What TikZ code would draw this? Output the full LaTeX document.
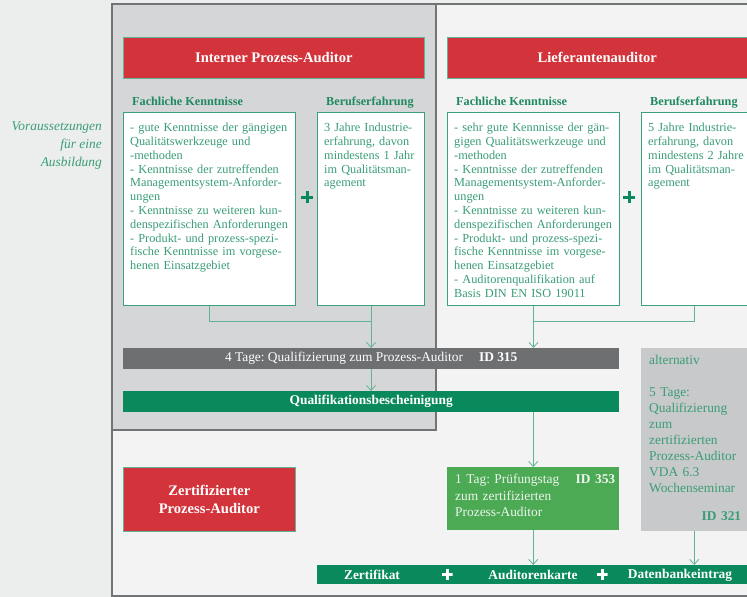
\documentclass[tikz,border=0pt]{standalone}
\usepackage{fontspec}
\setmainfont{Liberation Serif}
\usetikzlibrary{arrows.meta,positioning}

\definecolor{bgpaper}{HTML}{ECEEED}
\definecolor{shadegray}{HTML}{D4D6D7}
\definecolor{framegray}{HTML}{737475}
\definecolor{zred}{HTML}{D3333B}
\definecolor{zgreen}{HTML}{0A8A5C}
\definecolor{lgreen}{HTML}{4CA954}
\definecolor{txtgreen}{HTML}{3A9D76}
\definecolor{titlegreen}{HTML}{1F8A60}
\definecolor{linegreen}{HTML}{64B296}
\definecolor{bargray}{HTML}{6E6F71}
\definecolor{altgray}{HTML}{C8C9CA}

\tikzset{
  redhead/.style={fill=zred, draw=linegreen, line width=0.6pt, text=white,
    anchor=north west, inner sep=0pt, align=center,
    font=\fontsize{14.6}{18}\selectfont\bfseries},
  ktitle/.style={anchor=base west, inner sep=0pt, text=titlegreen,
    font=\fontsize{12.2}{14}\selectfont\bfseries},
  kbox/.style={draw=zgreen!80, line width=1pt, fill=white, anchor=north west,
    inner sep=0pt, minimum height=193},
  ktext/.style={anchor=north west, inner sep=0pt, text=txtgreen, align=left,
    text width=180, font=\fontsize{12.3}{13.8}\selectfont},
  plussign/.style={inner sep=0pt, minimum size=12, path picture={
    \draw[#1, line width=3pt]
      (path picture bounding box.north) -- (path picture bounding box.south)
      (path picture bounding box.west) -- (path picture bounding box.east);}},
  plussign/.default=zgreen,
  barbox/.style={anchor=north west, inner sep=0pt, text=white, minimum width=496},
  conn/.style={draw=linegreen, line width=0.8pt},
  arr/.style={conn, -{Straight Barb[length=5pt,width=9pt]}}
}

\begin{document}
\frenchspacing
\begin{tikzpicture}[x=1pt, y=-1pt]
  %%%%% frame %%%%%
  \useasboundingbox (0,0) rectangle (747,597);
  \clip (0,0) rectangle (747,597);
  \fill[bgpaper] (0,0) rectangle (747,597);
  \draw[framegray, line width=1.3pt, fill=bgpaper!70!white] (112,4) rectangle (770,596);
  \draw[framegray, line width=1.3pt, fill=shadegray] (112,4) rectangle (436,430);

  \node[anchor=north east, inner sep=0pt, align=right, text=txtgreen,
    font=\fontsize{13.4}{18}\selectfont\itshape] (voraus) at (102,122)
    {Voraussetzungen\\für eine\\Ausbildung};

  %%%%% headers %%%%%
  \node[redhead, minimum width=301, minimum height=41] (headint) at (123,37) {Interner Prozess-Auditor};
  \node[redhead, minimum width=300, minimum height=41] (headlief) at (447,37) {Lieferantenauditor};

  \node[ktitle] (tfach1) at (132,105) {Fachliche Kenntnisse};
  \node[ktitle] (tberuf1) at (326,105) {Berufserfahrung};
  \node[ktitle] (tfach2) at (456,105) {Fachliche Kenntnisse};
  \node[ktitle] (tberuf2) at (650,105) {Berufserfahrung};

  %%%%% requirements %%%%%
  \node[kbox, minimum width=172] (kfach1) at (123,112) {};
  \node[kbox, minimum width=107] (kberuf1) at (317,112) {};
  \node[kbox, minimum width=172] (kfach2) at (447,112) {};
  \node[kbox, minimum width=106] (kberuf2) at (641,112) {};

  \node[ktext] (xfach1) at ([xshift=7, yshift=-11]kfach1.north west)
    {- gute Kenntnisse der gängigen\\
     Qualitätswerkzeuge und\\
     -methoden\\
     - Kenntnisse der zutreffenden\\
     Managementsystem-Anforder-\\
     ungen\\
     - Kenntnisse zu weiteren kun-\\
     denspezifischen Anforderungen\\
     - Produkt- und prozess-spezi-\\
     fische Kenntnisse im vorgese-\\
     henen Einsatzgebiet};
  \node[ktext] (xberuf1) at ([xshift=7, yshift=-11]kberuf1.north west)
    {3 Jahre Industrie-\\erfahrung, davon\\mindestens 1 Jahr\\im Qualitätsman-\\agement};
  \node[ktext] (xfach2) at ([xshift=7, yshift=-11]kfach2.north west)
    {- sehr gute Kennnisse der gän-\\
     gigen Qualitätswerkzeuge und\\
     -methoden\\
     - Kenntnisse der zutreffenden\\
     Managementsystem-Anforder-\\
     ungen\\
     - Kenntnisse zu weiteren kun-\\
     denspezifischen Anforderungen\\
     - Produkt- und prozess-spezi-\\
     fische Kenntnisse im vorgese-\\
     henen Einsatzgebiet\\
     - Auditorenqualifikation auf\\
     Basis DIN EN ISO 19011};
  \node[ktext] (xberuf2) at ([xshift=7, yshift=-11]kberuf2.north west)
    {5 Jahre Industrie-\\erfahrung, davon\\mindestens 2 Jahre\\im Qualitätsman-\\agement};

  \node[plussign] (plus1) at (307,197) {};
  \node[plussign] (plus2) at (629,197) {};

  %%%%% courses %%%%%
  \node[barbox, fill=bargray, minimum height=21,
    font=\fontsize{13.4}{15}\selectfont] (kurs315) at (123,348)
    {4 Tage: Qualifizierung zum Prozess-Auditor\hspace{1.2em}\textbf{ID 315}};
  \node[barbox, fill=zgreen, minimum height=21,
    font=\fontsize{13.4}{15}\selectfont\bfseries] (bescheinigung) at (123,391)
    {Qualifikationsbescheinigung};

  \node[anchor=north west, inner sep=0pt, fill=lgreen, minimum width=172,
    minimum height=63] (pruefung) at (447,467) {};
  \node[anchor=north west, inner sep=0pt, text=white!90!lgreen, align=left,
    text width=160, font=\fontsize{13.4}{16.5}\selectfont] (xpruefung)
    at ([xshift=8, yshift=-7]pruefung.north west)
    {1 Tag: Prüfungstag\hspace{0pt plus 1filll}\textbf{ID 353}\\zum zertifizierten\\Prozess-Auditor};

  \node[anchor=north west, inner sep=0pt, fill=altgray, minimum width=106,
    minimum height=183] (alternativ) at (641,348) {};
  \node[anchor=north west, inner sep=0pt, text=txtgreen, align=left,
    text width=92, font=\fontsize{13.4}{16}\selectfont] (xalternativ)
    at ([xshift=8, yshift=-7]alternativ.north west)
    {alternativ\\[16pt]5 Tage:\\Qualifizierung\\zum\\zertifizierten\\Prozess-Auditor\\VDA 6.3\\Wochenseminar\\[12pt]
     \hspace{0pt plus 1filll}\textbf{ID 321}};

  \node[redhead, minimum width=172, minimum height=64] (zertauditor) at (123,467)
    {Zertifizierter\\Prozess-Auditor};

  %%%%% result %%%%%
  \node[anchor=north west, inner sep=0pt, fill=zgreen, minimum width=430,
    minimum height=19] (ergebnis) at (317,565) {};
  \begin{scope}[every node/.style={text=white, inner sep=0pt,
      font=\fontsize{13.4}{15}\selectfont\bfseries}]
    \node (zertifikat) at (372,575) {Zertifikat};
    \node[plussign=white, minimum size=11] (plus3) at (447,574.5) {};
    \node (karte) at (533,575) {Auditorenkarte};
    \node[plussign=white, minimum size=11] (plus4) at (602,574.5) {};
    \node (datenbank) at (680,575) {Datenbankeintrag};
  \end{scope}

  %%%%% connectors %%%%%
  \coordinate (join1) at (kberuf1.south |- 0,321);
  \coordinate (join2) at (kfach2.south |- 0,321);
  \draw[conn] (kfach1.south) |- (join1);
  \draw[arr] (kberuf1.south) -- (kurs315.north -| kberuf1.south);
  \draw[conn] (kberuf2.south) |- (join2);
  \draw[arr] (kfach2.south) -- (kurs315.north -| kfach2.south);
  \draw[arr] (kurs315.south -| kberuf1.south) -- (bescheinigung.north -| kberuf1.south);
  \draw[arr] (bescheinigung.south -| pruefung.north) -- (pruefung.north);
  \draw[arr] (pruefung.south) -- (ergebnis.north -| pruefung.south);
  \draw[arr] (alternativ.south) -- (ergebnis.north -| alternativ.south);
\end{tikzpicture}
\end{document}
